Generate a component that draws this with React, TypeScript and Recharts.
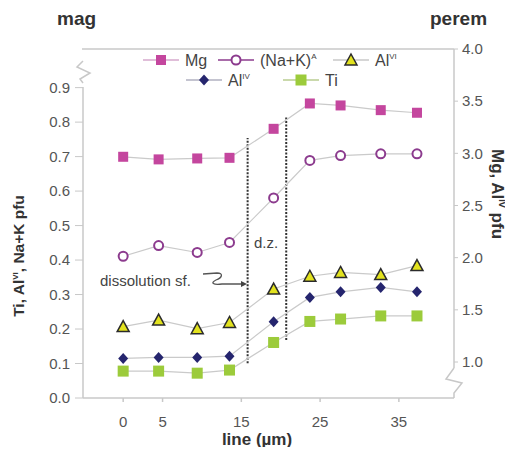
import React from "react";
import { LineChart, Line, XAxis, YAxis, ReferenceLine } from "recharts";

// distance along the line (µm)
const positions = [0, 4.5, 9.4, 13.5, 19.1, 23.7, 27.6, 32.7, 37.3];
// right axis (Mg, Al IV pfu)
const mg = [2.967, 2.942, 2.951, 2.957, 3.235, 3.478, 3.459, 3.414, 3.389];
const alIV = [1.034, 1.044, 1.044, 1.056, 1.385, 1.619, 1.673, 1.715, 1.673];
// left axis (Ti, Al VI, Na+K pfu)
const naK = [0.411, 0.442, 0.422, 0.451, 0.58, 0.689, 0.703, 0.708, 0.708];
const alVI = [0.207, 0.226, 0.201, 0.219, 0.316, 0.353, 0.364, 0.358, 0.384];
const ti = [0.078, 0.078, 0.072, 0.081, 0.161, 0.222, 0.229, 0.238, 0.238];

const xTicks = [0, 5, 15, 25, 35];
const leftTicks = [0, 0.1, 0.2, 0.3, 0.4, 0.5, 0.6, 0.7, 0.8, 0.9];
const rightTicks = [1, 1.5, 2, 2.5, 3, 3.5, 4];
// dissolution zone boundaries
const dzLines = [
  { x: 15.8, from: 0.101, to: 0.754 },
  { x: 20.7, from: 0.168, to: 0.817 },
];

const rows = positions.map((x, i) => ({
  x,
  mg: mg[i],
  alIV: alIV[i],
  naK: naK[i],
  alVI: alVI[i],
  ti: ti[i],
}));

const FONT = "'Liberation Sans', Arial, sans-serif";
const AXIS = "#c8c8c8";
const TICK = { fill: "#555", fontSize: 15, fontFamily: FONT };

function marker(kind: string, cx: number, cy: number, key?: string) {
  switch (kind) {
    case "mg":
      return <rect key={key} x={cx - 5} y={cy - 5} width={10} height={10} fill="#c4469e" />;
    case "naK":
      return <circle key={key} cx={cx} cy={cy} r={4.5} fill="#fff" stroke="#8c3b8e" strokeWidth={2} />;
    case "alVI":
      return (
        <path
          key={key}
          d={`M${cx},${cy - 6} L${cx + 6},${cy + 5} L${cx - 6},${cy + 5} Z`}
          fill="#e2e21e"
          stroke="#2b2b2b"
          strokeWidth={1.5}
        />
      );
    case "alIV":
      return (
        <path
          key={key}
          d={`M${cx},${cy - 5.5} L${cx + 5},${cy} L${cx},${cy + 5.5} L${cx - 5},${cy} Z`}
          fill="#25256e"
        />
      );
    default:
      return <rect key={key} x={cx - 5.5} y={cy - 5.5} width={11} height={11} fill="#9ccb3b" />;
  }
}

const series = [
  { key: "ti", axis: "left" },
  { key: "alIV", axis: "right" },
  { key: "alVI", axis: "left" },
  { key: "naK", axis: "left" },
  { key: "mg", axis: "right" },
];

function LegendItem({ kind, x, y, label, sup, lineColor }: any) {
  return (
    <g>
      <line x1={x - 18} x2={x + 18} y1={y} y2={y} stroke={lineColor} strokeWidth={1.5} />
      {marker(kind, x, y)}
      <text x={x + 24} y={y + 5.5} fontSize={16} fill="#444" fontFamily={FONT}>
        {label}
        {sup && (
          <tspan dy={-7} fontSize={8}>
            {sup}
          </tspan>
        )}
      </text>
    </g>
  );
}

function Overlay() {
  return (
    <svg
      width={513}
      height={455}
      style={{ position: "absolute", left: 0, top: 0, pointerEvents: "none" }}
    >
      {/* frame with axis breaks */}
      <line x1={82} x2={454} y1={49} y2={49} stroke={AXIS} strokeWidth={1.5} />
      <polyline points="83,61 77,67 90,73 80,79 83,83" fill="none" stroke={AXIS} strokeWidth={1.5} />
      <line x1={83} x2={83} y1={87} y2={398} stroke={AXIS} strokeWidth={1.5} />
      <line x1={454} x2={454} y1={49} y2={368} stroke={AXIS} strokeWidth={1.5} />
      <polyline points="454,368 446,379 462,383 454,393 454,398" fill="none" stroke={AXIS} strokeWidth={1.5} />

      <text x={57} y={25} fontSize={19} fontWeight="bold" fill="#333" fontFamily={FONT}>mag</text>
      <text x={430} y={25} fontSize={19} fontWeight="bold" fill="#333" fontFamily={FONT}>perem</text>

      <LegendItem kind="mg" x={161} y={60} label="Mg" lineColor="#d6a9cc" />
      <LegendItem kind="naK" x={236} y={60} label="(Na+K)" sup="A" lineColor="#8c3b8e" />
      <LegendItem kind="alVI" x={351} y={60} label="Al" sup="VI" lineColor="#c8c8c8" />
      <LegendItem kind="alIV" x={204} y={80} label="Al" sup="IV" lineColor="#b0b0c0" />
      <LegendItem kind="ti" x={301} y={80} label="Ti" lineColor="#b8cc90" />

      <text
        transform="rotate(-90, 24, 256)"
        x={24}
        y={256}
        textAnchor="middle"
        fontSize={15.5}
        fontWeight="bold"
        fill="#333"
        fontFamily={FONT}
      >
        Ti, Al<tspan dy={-6} fontSize={8}>VI</tspan>
        <tspan dy={6}>, Na+K pfu</tspan>
      </text>
      <text
        transform="rotate(90, 492, 194)"
        x={492}
        y={194}
        textAnchor="middle"
        fontSize={17}
        fontWeight="bold"
        fill="#333"
        fontFamily={FONT}
      >
        Mg, Al<tspan dy={-7} fontSize={9}>IV</tspan>
        <tspan dy={7}> pfu</tspan>
      </text>
      <text x={257} y={445} textAnchor="middle" fontSize={17} fontWeight="bold" fill="#333" fontFamily={FONT}>
        line (µm)
      </text>

      <text x={266} y={248} textAnchor="middle" fontSize={15} fill="#444" fontFamily={FONT}>d.z.</text>
      <text x={100} y={286} fontSize={15} fill="#444" fontFamily={FONT}>dissolution sf.</text>
      <path
        d="M203,274 L217,273 C224,273 222,278 216,280 C210,283 213,285 222,284 L242,284"
        fill="none"
        stroke="#555"
        strokeWidth={1.3}
      />
      <path d="M241,281 L247,284 L241,287 Z" fill="#444" />
    </svg>
  );
}

export default function App() {
  return (
    <div style={{ position: "relative", width: 513, height: 455, margin: -8, background: "#fff" }}>
      <LineChart width={513} height={455} data={rows} margin={{ top: 49, right: 0, bottom: 27, left: 0 }}>
        <XAxis
          dataKey="x"
          type="number"
          domain={[-5.1, 42]}
          allowDataOverflow
          ticks={xTicks}
          height={30}
          tickSize={4}
          tickMargin={14}
          tick={TICK}
          stroke={AXIS}
          strokeWidth={1.5}
        />
        <YAxis
          yAxisId="left"
          domain={[0, 1.012]}
          allowDataOverflow
          ticks={leftTicks}
          width={83}
          tickSize={8}
          tickMargin={5}
          axisLine={false}
          tickLine={{ stroke: AXIS }}
          tick={TICK}
          tickFormatter={(v: number) => v.toFixed(1)}
        />
        <YAxis
          yAxisId="right"
          orientation="right"
          domain={[0.655, 4.0]}
          allowDataOverflow
          ticks={rightTicks}
          width={59}
          tickSize={4}
          tickMargin={4}
          axisLine={false}
          tickLine={{ stroke: AXIS }}
          tick={TICK}
          tickFormatter={(v: number) => v.toFixed(1)}
        />
        {dzLines.map((d, i) => (
          <ReferenceLine
            key={i}
            yAxisId="left"
            segment={[
              { x: d.x, y: d.from },
              { x: d.x, y: d.to },
            ]}
            stroke="#333"
            strokeWidth={2}
            strokeDasharray="2 1.5"
          />
        ))}
        {series.map((s) => (
          <Line
            key={s.key}
            yAxisId={s.axis}
            dataKey={s.key}
            type="linear"
            stroke="#cacaca"
            strokeWidth={1.2}
            isAnimationActive={false}
            activeDot={false}
            dot={(p: any) => marker(s.key, p.cx, p.cy, `${s.key}-${p.index}`)}
          />
        ))}
      </LineChart>
      <Overlay />
    </div>
  );
}
